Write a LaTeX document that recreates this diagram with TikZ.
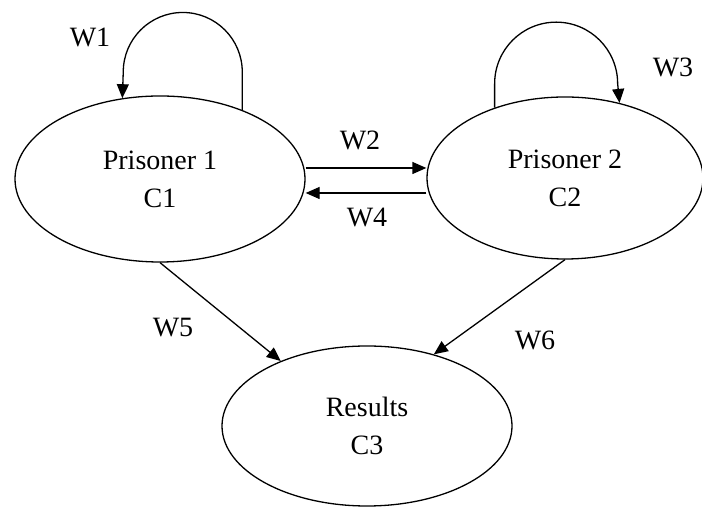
\documentclass[tikz,border=0pt]{standalone}
\usepackage{fontspec}
\setmainfont{Liberation Serif}
\usetikzlibrary{arrows.meta,shapes.geometric}
\begin{document}
\begin{tikzpicture}[x=1pt,y=1pt,
  state/.style={draw,ellipse,line width=1.3pt,inner sep=0pt,align=center,
    font=\fontsize{28}{38}\selectfont},
  lbl/.style={font=\fontsize{28}{34}\selectfont,inner sep=0pt},
  arr/.style={line width=1.3pt,-{Triangle[length=14pt,width=12pt]}}]
\useasboundingbox (0,0) rectangle (702,508);
\node[state,minimum width=290pt,minimum height=166pt] (c1) at (160,329) {Prisoner 1\\C1};
\node[state,minimum width=276pt,minimum height=162pt] (c2) at (565,330) {Prisoner 2\\C2};
\node[state,minimum width=290pt,minimum height=160pt] (c3) at (367,82) {Results\\C3};
% self loops
\draw[arr] (c1.40) -- ++(0,38) arc[start angle=0,end angle=180,radius=59.5] -- (c1.115);
\draw[arr] (c2.135) -- ++(0,24) arc[start angle=180,end angle=0,radius=61.5] -- (c2.54.7);
% horizontal
\draw[arr] ([yshift=11pt]c1.east) -- ([yshift=10pt]c2.west);
\draw[arr] ([yshift=-15pt]c2.west) -- ([yshift=-14pt]c1.east);
% to results
\draw[arr] (c1.south) -- (c3.143);
\draw[arr] (c2.south) -- (c3.47);
% labels
\node[lbl] (w1) at (90,471) {W1};
\node[lbl] (w2) at (360,368) {W2};
\node[lbl] (w3) at (673,441) {W3};
\node[lbl] (w4) at (367,290) {W4};
\node[lbl] (w5) at (173,180) {W5};
\node[lbl] (w6) at (535,168) {W6};
\end{tikzpicture}
\end{document}
